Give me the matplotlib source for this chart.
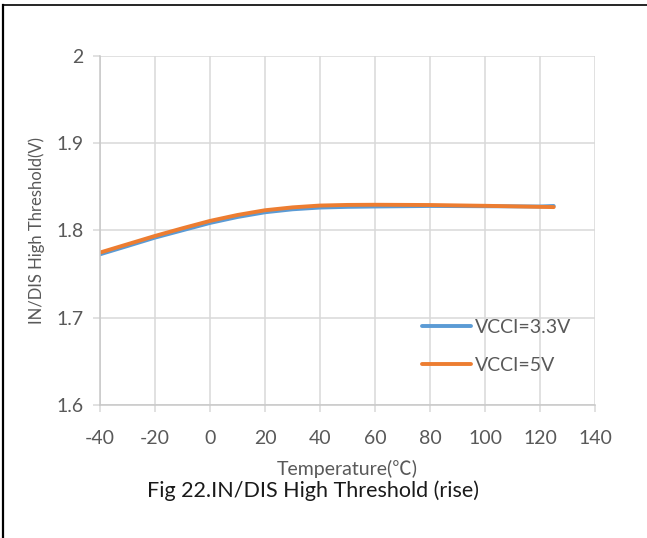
import matplotlib
matplotlib.use("Agg")
from matplotlib import pyplot as plt
from matplotlib.lines import Line2D

plt.rcParams['font.family'] = ['Lato', 'Noto Sans CJK SC', 'DejaVu Sans']
plt.rcParams['axes.unicode_minus'] = False

# threshold vs temperature, two supply voltages
temperature = [-40, -30, -20, -10, 0, 10, 20, 30, 40, 50, 60, 80, 100, 120, 125]
vcc_33 = [1.7725, 1.7820, 1.7916, 1.8000, 1.8084, 1.8152, 1.8206, 1.8240, 1.8260, 1.8268,
          1.8272, 1.8278, 1.8275, 1.8272, 1.8278]
vcc_5 = [1.7745, 1.7840, 1.7935, 1.8023, 1.8107, 1.8175, 1.8229, 1.8262, 1.8283, 1.8290,
         1.8292, 1.8289, 1.8280, 1.8268, 1.8265]

x_ticks = [-40, -20, 0, 20, 40, 60, 80, 100, 120, 140]
y_ticks = [1.6, 1.7, 1.8, 1.9, 2.0]
y_labels = ["1.6", "1.7", "1.8", "1.9", "2"]

grey_text = "#595959"
grid_col = "#D9D9D9"

fig = plt.figure(figsize=(6.47, 5.38), dpi=100)
ax = fig.add_axes([0.1546, 0.2472, 0.7650, 0.6496])

ax.plot(temperature, vcc_33, color="#5B9BD5", lw=2.8, solid_capstyle="round", label="VCCI=3.3V")
ax.plot(temperature, vcc_5, color="#ED7D31", lw=2.8, solid_capstyle="round", label="VCCI=5V")

ax.set_xlim(-40, 140)
ax.set_ylim(1.6, 2.0)
ax.set_xticks(x_ticks)
ax.set_yticks(y_ticks)
ax.set_yticklabels(y_labels)
ax.grid(True, color=grid_col, lw=1.1)
ax.set_axisbelow(True)
for s in ["top", "right"]:
    ax.spines[s].set_visible(False)
for s in ["left", "bottom"]:
    ax.spines[s].set_color("#C8C8C8")
    ax.spines[s].set_linewidth(1.1)
ax.tick_params(colors=grid_col, labelcolor=grey_text, labelsize=14, length=5, width=1.1)
ax.tick_params(axis="x", pad=13)
ax.tick_params(axis="y", pad=7)

ax.set_xlabel("Temperature(℃)", fontsize=14, color=grey_text, labelpad=9)
ax.set_ylabel("IN/DIS High Threshold(V)", fontsize=12, color=grey_text, labelpad=8)

ax.legend(loc="lower left", bbox_to_anchor=(0.615, 0.04), frameon=False, fontsize=14,
          handlelength=2.5, labelspacing=1.05, handletextpad=0.25, labelcolor=grey_text)

fig.text(0.483, 0.087, "Fig 22.IN/DIS High Threshold (rise)", ha="center", va="center",
         fontsize=15.5, color="#1a1a1a")

# page frame lines
fig.add_artist(Line2D([0.005, 0.005], [0, 0.991], transform=fig.transFigure, color="black", lw=1.6))
fig.add_artist(Line2D([0.005, 1.0], [0.991, 0.991], transform=fig.transFigure, color="black", lw=1.2))

fig.savefig("out.png", dpi=100)
